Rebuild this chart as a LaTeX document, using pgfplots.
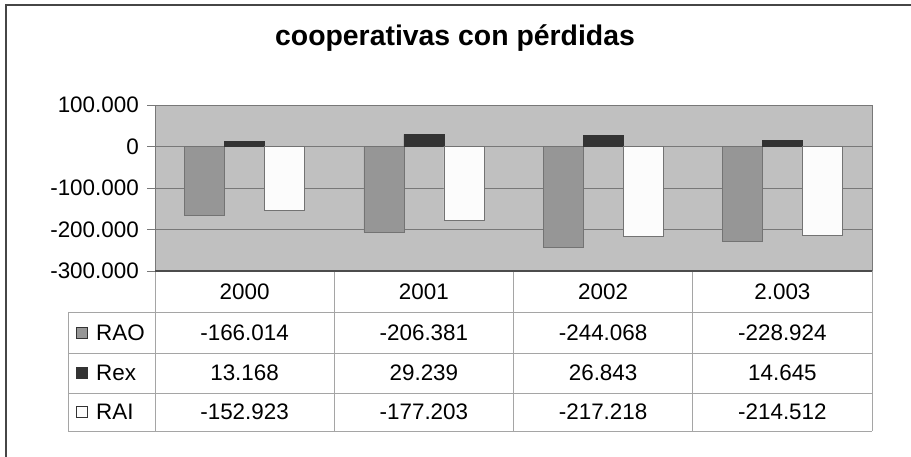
\documentclass[border=0pt]{standalone}
\usepackage{pgfplots}
\pgfplotsset{compat=1.18}
\usepackage{fontspec}
\setmainfont{Liberation Sans}
\definecolor{plotbg}{RGB}{192,192,192}
\definecolor{raoc}{RGB}{150,150,150}
\definecolor{rexc}{RGB}{51,51,51}
\definecolor{raic}{RGB}{252,252,252}
\definecolor{gridc}{RGB}{120,120,120}
\definecolor{tabc}{RGB}{165,165,165}
\definecolor{framec}{RGB}{70,70,70}
\newcommand{\tf}{\fontsize{22.5}{26}\selectfont}
\begin{document}
\begin{tikzpicture}[x=1bp,y=1bp]
\useasboundingbox (0,0) rectangle (911,457);
\fill[white] (0,0) rectangle (911,457);
\begin{axis}[
  at={(155bp,186bp)}, anchor=south west,
  scale only axis, width=717bp, height=166bp,
  ybar=0pt, bar width=40bp,
  xmin=-0.5, xmax=3.5, ymin=-300000, ymax=100000,
  xtick=\empty,
  scaled y ticks=false,
  ytick={-300000,-200000,-100000,0,100000},
  yticklabels={-300.000,-200.000,-100.000,0,100.000},
  ytick pos=left,
  tick align=outside,
  major tick length=8bp,
  yticklabel style={font=\tf, anchor=east, inner sep=0pt, xshift=-8bp},
  ymajorgrids, grid style={gridc, line width=0.8bp},
  ytick style={gridc, line width=0.8bp},
  axis line style={gridc, line width=0.8bp},
  axis background/.style={fill=plotbg},
]
\addplot[fill=raoc, draw=black!55, line width=0.6bp] coordinates {(0,-166014) (1,-206381) (2,-244068) (3,-228924)};
\addplot[fill=rexc, draw=black!80, line width=0.6bp] coordinates {(0,13168) (1,29239) (2,26843) (3,14645)};
\addplot[fill=raic, draw=black!55, line width=0.6bp] coordinates {(0,-152923) (1,-177203) (2,-217218) (3,-214512)};
\end{axis}
% data table
\begin{scope}[tabc, line width=0.8]
\draw (155,186) -- (155,26);
\draw (334.25,186) -- (334.25,26);
\draw (513.5,186) -- (513.5,26);
\draw (692.75,186) -- (692.75,26);
\draw (872,186) -- (872,26);
\draw (68,145) -- (872,145);
\draw (68,104) -- (872,104);
\draw (68,64) -- (872,64);
\draw (68,26) -- (872,26);
\draw (68,145) -- (68,26);
\end{scope}
\draw[black!70, line width=1.6] (155,186) -- (872,186);
% header
\node[font=\tf] at (244.6,165.5) {2000};
\node[font=\tf] at (423.9,165.5) {2001};
\node[font=\tf] at (603.1,165.5) {2002};
\node[font=\tf] at (782.4,165.5) {2.003};
% RAO row
\filldraw[fill=raoc, draw=black!80, line width=0.8] (76,119) rectangle (87,130);
\node[font=\tf, anchor=west, inner sep=0pt] at (96,124.5) {RAO};
\node[font=\tf] at (244.6,124.5) {-166.014};
\node[font=\tf] at (423.9,124.5) {-206.381};
\node[font=\tf] at (603.1,124.5) {-244.068};
\node[font=\tf] at (782.4,124.5) {-228.924};
% Rex row
\filldraw[fill=rexc, draw=black!80, line width=0.8] (76,78.5) rectangle (87,89.5);
\node[font=\tf, anchor=west, inner sep=0pt] at (96,84) {Rex};
\node[font=\tf] at (244.6,84) {13.168};
\node[font=\tf] at (423.9,84) {29.239};
\node[font=\tf] at (603.1,84) {26.843};
\node[font=\tf] at (782.4,84) {14.645};
% RAI row
\filldraw[fill=raic, draw=black!80, line width=0.8] (76,39.5) rectangle (87,50.5);
\node[font=\tf, anchor=west, inner sep=0pt] at (96,45) {RAI};
\node[font=\tf] at (244.6,45) {-152.923};
\node[font=\tf] at (423.9,45) {-177.203};
\node[font=\tf] at (603.1,45) {-217.218};
\node[font=\tf] at (782.4,45) {-214.512};
% title
\node[font=\bfseries\fontsize{28.5}{32}\selectfont, anchor=base] at (455,411) {cooperativas con pérdidas};
% frame
\draw[framec, line width=2] (6,0) -- (6,452) -- (912,452);
\end{tikzpicture}
\end{document}
